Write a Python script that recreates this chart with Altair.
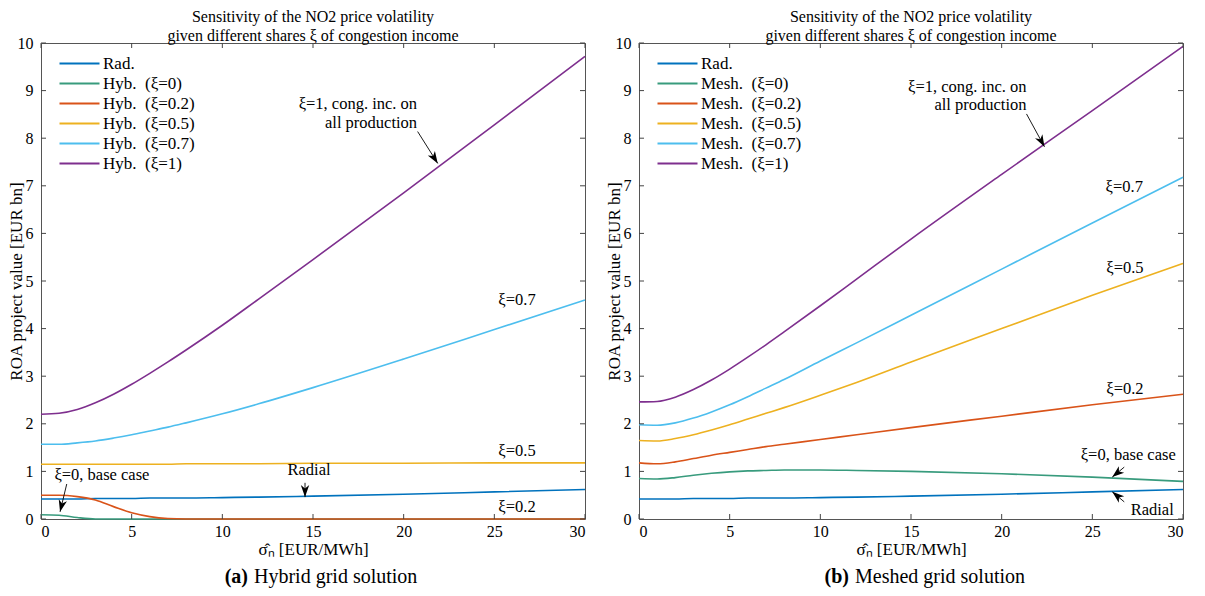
import math
import altair as alt
import pandas as pd

# ---------------- data ----------------
X = [0, 1, 2, 3, 4, 5, 6, 7, 8, 10, 12, 15, 20, 25, 30]

RADIAL = [0.42, 0.42, 0.42, 0.43, 0.43, 0.43, 0.44, 0.44, 0.44, 0.45, 0.46, 0.48, 0.52, 0.57, 0.62]

HYB_0 = [0.09, 0.08, 0.03, 0.0, 0.0, 0.0, 0.0, 0.0, 0.0, 0.0, 0.0, 0.0, 0.0, 0.0, 0.0]
HYB_02 = [0.50, 0.50, 0.47, 0.40, 0.26, 0.13, 0.05, 0.01, 0.0, 0.0, 0.0, 0.0, 0.0, 0.0, 0.0]
HYB_05 = [1.15, 1.15, 1.15, 1.15, 1.15, 1.15, 1.15, 1.15, 1.16, 1.16, 1.16, 1.17, 1.17, 1.18, 1.18]
HYB_07 = [1.57, 1.57, 1.60, 1.64, 1.70, 1.77, 1.85, 1.93, 2.02, 2.21, 2.42, 2.76, 3.36, 3.98, 4.60]
HYB_1 = [2.20, 2.22, 2.30, 2.44, 2.62, 2.83, 3.06, 3.30, 3.55, 4.07, 4.62, 5.45, 6.85, 8.28, 9.72]

MESH_0 = [0.85, 0.84, 0.87, 0.92, 0.96, 0.99, 1.01, 1.02, 1.03, 1.03, 1.02, 1.00, 0.95, 0.88, 0.79]
MESH_02 = [1.18, 1.16, 1.20, 1.27, 1.34, 1.40, 1.46, 1.52, 1.57, 1.67, 1.77, 1.92, 2.16, 2.40, 2.62]
MESH_05 = [1.65, 1.64, 1.69, 1.77, 1.87, 1.98, 2.10, 2.22, 2.34, 2.60, 2.87, 3.30, 4.00, 4.70, 5.37]
MESH_07 = [1.98, 1.97, 2.02, 2.12, 2.25, 2.40, 2.57, 2.75, 2.93, 3.32, 3.70, 4.28, 5.25, 6.22, 7.18]
MESH_1 = [2.46, 2.47, 2.56, 2.72, 2.92, 3.15, 3.40, 3.66, 3.93, 4.48, 5.04, 5.88, 7.24, 8.58, 9.93]

NB = "\u00a0"
NAMES_L = ["Rad.", f"Hyb.{NB} (ξ=0)", f"Hyb.{NB} (ξ=0.2)", f"Hyb.{NB} (ξ=0.5)",
           f"Hyb.{NB} (ξ=0.7)", f"Hyb.{NB} (ξ=1)"]
NAMES_R = ["Rad.", f"Mesh.{NB} (ξ=0)", f"Mesh.{NB} (ξ=0.2)", f"Mesh.{NB} (ξ=0.5)",
           f"Mesh.{NB} (ξ=0.7)", f"Mesh.{NB} (ξ=1)"]
COLORS = ["#0072BD", "#389B7D", "#D95319", "#EDB120", "#4DBEEE", "#7E2F8E"]

X_TICKS = [0, 5, 10, 15, 20, 25, 30]
Y_TICKS = [0, 1, 2, 3, 4, 5, 6, 7, 8, 9, 10]

TITLE = ["Sensitivity of the NO2 price volatility",
         "given different shares ξ of congestion income"]
X_TITLE = "σ̂ₙ [EUR/MWh]"
Y_TITLE = "ROA project value [EUR bn]"

# annotations: centred texts
ANN_L_TEXT = ["ξ=0.7", "ξ=0.5", "ξ=0.2", "Radial", "ξ=0, base case"]
ANN_L_X = [26.25, 26.25, 26.25, 14.78, 3.36]
ANN_L_Y = [4.60, 1.43, 0.25, 1.03, 0.92]
# right-aligned texts
ANN_L_RTEXT = ["ξ=1, cong. inc. on", "all production"]
ANN_L_RX = [20.74, 20.74]
ANN_L_RY = [8.72, 8.32]
# arrows (tail -> tip)
ARR_L_X1 = [20.77, 14.56, 1.42]
ARR_L_Y1 = [8.14, 0.76, 0.735]
ARR_L_X2 = [21.88, 14.56, 1.05]
ARR_L_Y2 = [7.47, 0.46, 0.15]

ANN_R_TEXT = ["ξ=0.7", "ξ=0.5", "ξ=0.2", "ξ=0, base case", "Radial"]
ANN_R_X = [26.76, 26.80, 26.80, 26.98, 28.30]
ANN_R_Y = [6.97, 5.27, 2.73, 1.34, 0.19]
ANN_R_RTEXT = ["ξ=1, cong. inc. on", "all production"]
ANN_R_RX = [21.37, 21.37]
ANN_R_RY = [9.08, 8.70]
ARR_R_X1 = [21.37, 26.76, 26.76]
ARR_R_Y1 = [8.51, 1.09, 0.36]
ARR_R_X2 = [22.36, 26.10, 26.10]
ARR_R_Y2 = [7.82, 0.88, 0.57]

CAP_L = ["(a)", "Hybrid grid solution"]
CAP_R = ["(b)", "Meshed grid solution"]

# ---------------- styling ----------------
FONT = "Liberation Serif"
W_L, W_R, H = 544, 544, 476
XMAX, YMAX = 30, 10
TICK = 5
HEAD = 12  # arrow head box (px)
HEAD_PATH = "M0,-1L0.7,1L0,0.45L-0.7,1Z"
LEG_PATH = "M-4,0L4,0"  # long legend stroke drawn from a small symbol box


def panel(W, names, arrays, ctext, cx, cy, rtext, rx, ry, ax1, ay1, ax2, ay2, cap, capoff):
    sx, sy = W / XMAX, H / YMAX
    rows = []
    for n, arr in zip(names, arrays):
        for x, y in zip(X, arr):
            rows.append({"x": x, "y": y, "series": n})
    df = pd.DataFrame(rows)

    xscale = alt.Scale(domain=[0, XMAX], nice=False, zero=False)
    yscale = alt.Scale(domain=[0, YMAX], nice=False, zero=False)
    xaxis = alt.Axis(values=X_TICKS, title=X_TITLE, titleY=30, titleBaseline="middle",
                     labelPadding=4, format="d", grid=False, domain=False, ticks=False,
                     tickSize=0, labelFont=FONT, labelFontSize=16, labelColor="black",
                     titleFont=FONT, titleFontSize=17, titleFontWeight="normal",
                     titleColor="black")
    yaxis = alt.Axis(values=Y_TICKS, title=Y_TITLE, titleX=-25, titleY=H / 2,
                     titleBaseline="middle", labelPadding=8, format="d", grid=False,
                     domain=False, ticks=False, tickSize=0, labelFont=FONT,
                     labelFontSize=16, labelColor="black", titleFont=FONT,
                     titleFontSize=17, titleFontWeight="normal", titleColor="black")

    def xe(f):
        return alt.X(f, type="quantitative", scale=xscale, axis=xaxis)

    def ye(f):
        return alt.Y(f, type="quantitative", scale=yscale, axis=yaxis)

    lines = alt.Chart(df).mark_line(strokeWidth=1.6, interpolate="monotone").encode(
        x=xe("x"), y=ye("y"),
        color=alt.Color("series:N", sort=names,
                        scale=alt.Scale(domain=names, range=COLORS),
                        legend=alt.Legend(title=None, orient="none", legendX=30, legendY=12,
                                          symbolType=LEG_PATH, symbolSize=100,
                                          symbolStrokeWidth=2, labelFont=FONT,
                                          labelFontSize=17, labelColor="black",
                                          rowPadding=2, padding=0,
                                          labelOffset=15)),
    )

    xt = pd.DataFrame({"v": X_TICKS})
    yt = pd.DataFrame({"v": Y_TICKS})
    tcol = "#444444"
    tb = alt.Chart(xt).mark_rule(color=tcol, strokeWidth=1).encode(
        x=xe("v"), y=alt.value(H), y2=alt.value(H - TICK))
    tt = alt.Chart(xt).mark_rule(color=tcol, strokeWidth=1).encode(
        x=xe("v"), y=alt.value(0), y2=alt.value(TICK))
    tl = alt.Chart(yt).mark_rule(color=tcol, strokeWidth=1).encode(
        y=ye("v"), x=alt.value(0), x2=alt.value(TICK))
    tr = alt.Chart(yt).mark_rule(color=tcol, strokeWidth=1).encode(
        y=ye("v"), x=alt.value(W), x2=alt.value(W - TICK))

    cdf = pd.DataFrame({"t": ctext, "x": cx, "y": cy})
    ctx = alt.Chart(cdf).mark_text(font=FONT, fontSize=16.5, color="black",
                                   align="center", baseline="middle").encode(
        x=xe("x"), y=ye("y"), text="t:N")
    rdf = pd.DataFrame({"t": rtext, "x": rx, "y": ry})
    rtx = alt.Chart(rdf).mark_text(font=FONT, fontSize=16.5, color="black",
                                   align="right", baseline="middle").encode(
        x=xe("x"), y=ye("y"), text="t:N")

    adf = pd.DataFrame({"x": ax1, "y": ay1, "x2": ax2, "y2": ay2})
    arr = alt.Chart(adf).mark_rule(color="black", strokeWidth=0.9).encode(
        x=xe("x"), y=ye("y"), x2="x2:Q", y2="y2:Q")

    hx, hy, ha = [], [], []
    for x1, y1, x2, y2 in zip(ax1, ay1, ax2, ay2):
        dx, dy = (x2 - x1) * sx, -(y2 - y1) * sy
        L = math.hypot(dx, dy)
        ux, uy = dx / L, dy / L
        hx.append(x2 - ux * HEAD / 2 / sx)
        hy.append(y2 + uy * HEAD / 2 / sy)
        ha.append(math.degrees(math.atan2(ux, -uy)) % 360)
    hdf = pd.DataFrame({"x": hx, "y": hy, "a": ha})
    heads = alt.Chart(hdf).mark_point(shape=HEAD_PATH, filled=True, color="black",
                                      size=HEAD * HEAD, opacity=1, strokeWidth=0).encode(
        x=xe("x"), y=ye("y"), angle=alt.Angle("a:Q", scale=None))

    capdf1 = pd.DataFrame({"t": [cap[0]]})
    capdf2 = pd.DataFrame({"t": [cap[1]]})
    cap1 = alt.Chart(capdf1).mark_text(font=FONT, fontSize=20, fontWeight="bold",
                                       color="black", align="right", baseline="middle").encode(
        text="t:N", x=alt.value(W / 2 + capoff[0]), y=alt.value(H + 58))
    cap2 = alt.Chart(capdf2).mark_text(font=FONT, fontSize=20, color="black",
                                       align="left", baseline="middle").encode(
        text="t:N", x=alt.value(W / 2 + capoff[1]), y=alt.value(H + 58))

    return alt.layer(lines, tb, tt, tl, tr, arr, heads, ctx, rtx, cap1, cap2).properties(
        width=W, height=H,
        title=alt.TitleParams(text=TITLE, font=FONT, fontSize=16, fontWeight="normal",
                              color="black", anchor="middle", frame="group",
                              offset=-9, lineHeight=19),
    )


left = panel(W_L, NAMES_L, [RADIAL, HYB_0, HYB_02, HYB_05, HYB_07, HYB_1],
             ANN_L_TEXT, ANN_L_X, ANN_L_Y, ANN_L_RTEXT, ANN_L_RX, ANN_L_RY,
             ARR_L_X1, ARR_L_Y1, ARR_L_X2, ARR_L_Y2, CAP_L, (-65, -59))
right = panel(W_R, NAMES_R, [RADIAL, MESH_0, MESH_02, MESH_05, MESH_07, MESH_1],
              ANN_R_TEXT, ANN_R_X, ANN_R_Y, ANN_R_RTEXT, ANN_R_RX, ANN_R_RY,
              ARR_R_X1, ARR_R_Y1, ARR_R_X2, ARR_R_Y2, CAP_R, (-62, -56))

chart = alt.hconcat(
    left, right, spacing=15, background="white",
    padding={"left": -2, "top": 0, "right": 0, "bottom": 0},
).resolve_scale(color="independent").configure_view(
    stroke="#555555", strokeWidth=1
).configure_axis(
    labelFont=FONT, labelFontSize=16, labelColor="black",
    titleFont=FONT, titleFontWeight="normal", titleColor="black",
    domain=False, ticks=False, tickSize=0, grid=False,
)

chart.save("out.html", embed_options={"renderer": "svg", "actions": False})
